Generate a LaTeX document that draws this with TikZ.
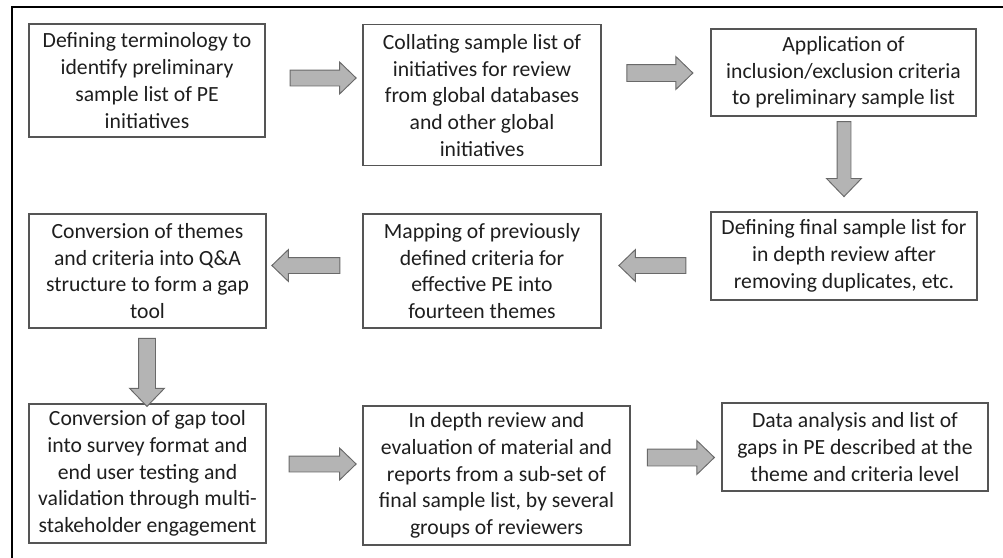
\documentclass[tikz,border=0pt]{standalone}
\usepackage{fontspec}
\setmainfont{Carlito}
\usepackage{xcolor}
\usepackage{tikz}
\usetikzlibrary{shapes.arrows, positioning}
\definecolor{arrowgray}{RGB}{180,180,180}
\definecolor{arrowedge}{RGB}{105,105,105}
\definecolor{boxedge}{RGB}{85,85,85}
\definecolor{textgray}{RGB}{30,30,30}

\begin{document}
\begin{tikzpicture}[x=0.03cm, y=-0.03cm,
  stepbox/.style={draw=boxedge, line width=0.9pt, align=center, inner sep=0pt,
    text=textgray, font=\fontsize{18.5}{22.8}\selectfont},
  blockarrow/.style={single arrow, draw=arrowedge, fill=arrowgray, line width=0.8pt,
    inner xsep=0pt, inner ysep=0.225cm, single arrow head extend=0.24cm,
    single arrow tip angle=88}]
\useasboundingbox (0,0) rectangle (1003,558);

% Frame (cut at right and bottom)
\draw[line width=1.6pt] (12,558) -- (12,7) -- (1003,7);

% Steps, row 1
\node[stepbox, minimum width=7.08cm, minimum height=3.39cm] (terms) at (147,80.5)
  {Defining terminology to\\identify preliminary\\sample list of PE\\initiatives};
\node[stepbox, minimum width=7.14cm, minimum height=4.22cm] (collate) at (482,95.3)
  {Collating sample list of\\initiatives for review\\from global databases\\and other global\\initiatives};
\node[stepbox, minimum width=7.95cm, minimum height=2.61cm] (criteria) at (843.5,72.5)
  {Application of\\inclusion/exclusion criteria\\to preliminary sample list};

% Steps, row 2
\node[stepbox, minimum width=7.98cm, minimum height=2.64cm] (final) at (844,256)
  {Defining final sample list for\\in depth review after\\removing duplicates, etc.};
\node[stepbox, minimum width=7.14cm, minimum height=3.42cm] (mapping) at (482,271)
  {Mapping of previously\\defined criteria for\\effective PE into\\fourteen themes};
\node[stepbox, minimum width=7.11cm, minimum height=3.42cm] (qanda) at (147.5,271)
  {Conversion of themes\\and criteria into Q\&A\\structure to form a gap\\tool};

% Steps, row 3
\node[stepbox, minimum width=7.11cm, minimum height=4.17cm] (survey) at (147.5,473.5)
  {Conversion of gap tool\\into survey format and\\end user testing and\\validation through multi-\\stakeholder engagement};
\node[stepbox, minimum width=8.01cm, minimum height=4.17cm] (review) at (496.5,475.5)
  {In depth review and\\evaluation of material and\\reports from a sub-set of\\final sample list, by several\\groups of reviewers};
\node[stepbox, minimum width=7.98cm, minimum height=2.64cm] (gaps) at (855,447)
  {Data analysis and list of\\gaps in PE described at the\\theme and criteria level};

% Block arrows between the steps
\node[blockarrow, minimum height=1.98cm] (a1) at (319,78) {};
\node[blockarrow, minimum height=1.98cm, inner ysep=0.24cm] (a2) at (655.5,73) {};
\node[blockarrow, minimum height=2.25cm, rotate=270, inner ysep=0.195cm, single arrow head extend=0.315cm] (a3) at (844,155.5) {};
\node[blockarrow, minimum height=2.01cm, rotate=180] (a4) at (656.5,265.5) {};
\node[blockarrow, minimum height=2.04cm, rotate=180] (a5) at (310,265.5) {};
\node[blockarrow, minimum height=2.04cm, rotate=270, inner ysep=0.24cm, single arrow head extend=0.27cm] (a6) at (147,368) {};
\node[blockarrow, minimum height=2.01cm] (a7) at (318.5,464) {};
\node[blockarrow, minimum height=2.01cm, inner ysep=0.24cm, single arrow head extend=0.255cm] (a8) at (676.5,457.5) {};
\end{tikzpicture}
\end{document}
